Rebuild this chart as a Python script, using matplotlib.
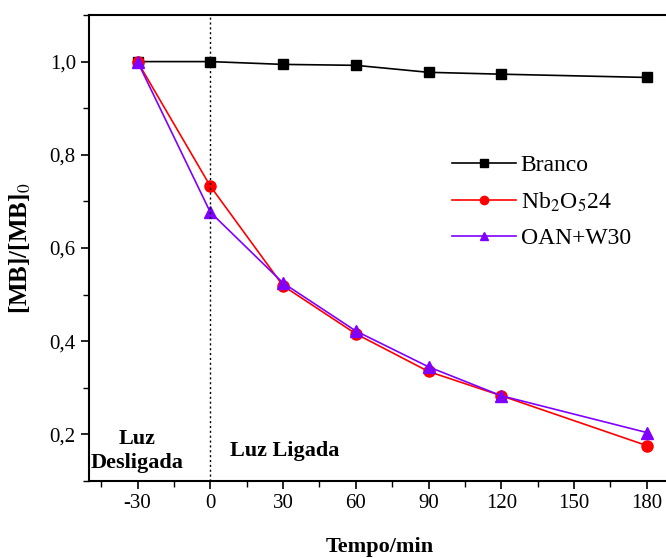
import matplotlib

matplotlib.use("Agg")
import matplotlib.pyplot as plt
from matplotlib.ticker import FixedLocator, FuncFormatter, MultipleLocator

TIME_MIN = [-30, 0, 30, 60, 90, 120, 180]
BRANCO = [1.000, 1.000, 0.994, 0.992, 0.977, 0.973, 0.966]
NB2O5_24 = [1.000, 0.733, 0.519, 0.416, 0.335, 0.283, 0.176]
OAN_W30 = [1.000, 0.677, 0.525, 0.422, 0.345, 0.283, 0.204]
X_TICKS = [-30, 0, 30, 60, 90, 120, 150, 180]
Y_TICKS = [0.2, 0.4, 0.6, 0.8, 1.0]

SERIF = ["Liberation Serif", "DejaVu Serif"]
plt.rcParams["font.family"] = SERIF
plt.rcParams["mathtext.fontset"] = "stix"
plt.rcParams["axes.unicode_minus"] = False

fig = plt.figure(figsize=(6.66, 5.58), dpi=100)
ax = fig.add_axes([89 / 666, 1 - 481 / 558, 582 / 666, 466 / 558])

ax.plot(TIME_MIN, BRANCO, color="black", marker="s", markersize=7, lw=1.2,
        label="Branco")
ax.plot(TIME_MIN, NB2O5_24, color="#ff0000", marker="o", markersize=8, lw=1.2,
        label="Nb$_2$O$_5$24")
ax.plot(TIME_MIN, OAN_W30, color="#8000ff", marker="^", markersize=8, lw=1.2,
        label="OAN+W30")

ax.axvline(0, color="black", linestyle=(0, (1.5, 2)), lw=1.0)

ax.set_xlim(-50, 190)
ax.set_ylim(0.1, 1.1)
ax.xaxis.set_major_locator(FixedLocator(X_TICKS))
ax.xaxis.set_minor_locator(MultipleLocator(15))
ax.yaxis.set_major_locator(FixedLocator(Y_TICKS))
ax.yaxis.set_minor_locator(MultipleLocator(0.1))
ax.yaxis.set_major_formatter(FuncFormatter(lambda v, p: f"{v:.1f}".replace(".", ",")))
ax.tick_params(which="major", direction="out", length=6, width=1.2, labelsize=15)
ax.tick_params(which="minor", direction="out", length=4, width=1.0)
for spine in ax.spines.values():
    spine.set_linewidth(1.5)
ax.spines["right"].set_visible(False)

ax.set_xlabel("Tempo/min", fontsize=16, fontweight="bold", labelpad=17)
ax.set_ylabel("[MB]/[MB]$_0$", fontsize=18, fontweight="bold", labelpad=12)

ax.text(-30, 0.165, "Luz\nDesligada", ha="center", va="center", fontsize=16,
        fontweight="bold", linespacing=1.25)
ax.text(8, 0.165, "Luz Ligada", ha="left", va="center", fontsize=16,
        fontweight="bold")

ax.legend(loc="upper left", bbox_to_anchor=(0.624, 0.70), frameon=False,
          fontsize=17, handlelength=2.7, handletextpad=0.2, labelspacing=0.6,
          borderpad=0, borderaxespad=0, markerscale=0.75)

fig.savefig("out.png", dpi=100)
